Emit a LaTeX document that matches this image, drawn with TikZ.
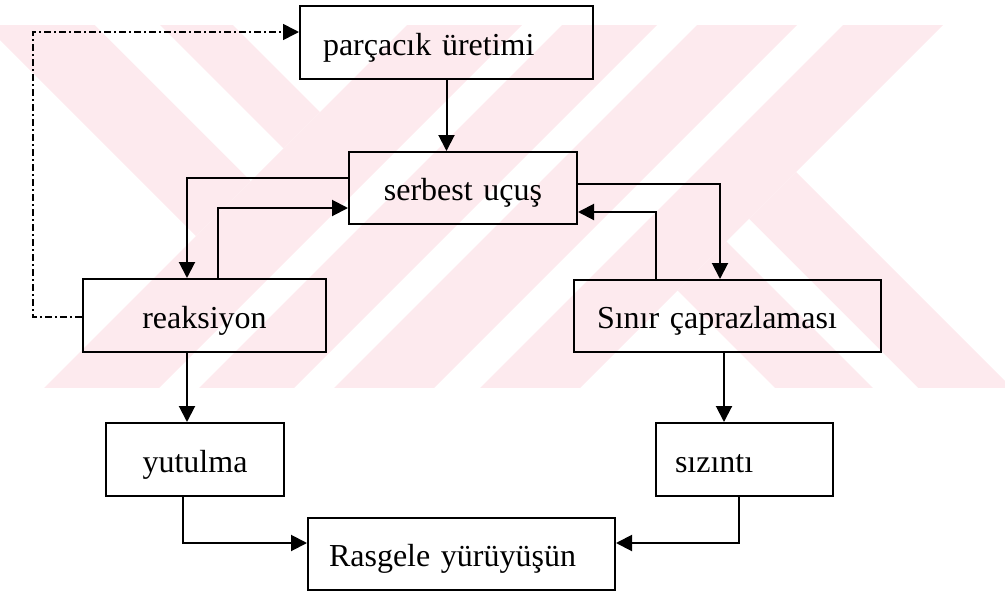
\documentclass[tikz,border=0pt]{standalone}
\usepackage{fontspec}
\setmainfont{Liberation Serif}
\usetikzlibrary{arrows.meta,calc}
\definecolor{wm}{RGB}{253,234,238}
\begin{document}
\begin{tikzpicture}[x=1pt,y=-1pt,
  box/.style={draw, line width=2pt, inner xsep=4pt, inner ysep=0pt,
    font=\fontsize{32}{38}\selectfont, text height=30pt, text depth=5pt},
  arr/.style={line width=2pt, -{Triangle[length=16pt,width=16pt]}},
  ddarr/.style={line width=1.6pt, dash pattern=on 7pt off 3pt on 2pt off 3pt,
    -{Triangle[length=16pt,width=16pt]}}]
\useasboundingbox (0,0) rectangle (1005,595);
% watermark
\begin{scope}
\clip (0,25) rectangle (1005,387);
\fill[wm] (-40,0) -- (208,0) -- (320,112) -- (196,236) -- cycle;
\fill[white] (70,0) -- (135,0) -- (283.5,148.5) -- (251,181) -- cycle;
\foreach \a/\b in {432/547,587/682,722/822,868/968}
  \fill[wm] (\a,0) -- (\b,0) -- (\b-400,400) -- (\a-400,400) -- cycle;
\fill[wm] (796,172) -- (1024,400) -- (787,400) -- (677.5,290.5) -- cycle;
\fill[white] (749,219) -- (930,400) -- (885,400) -- (726.5,241.5) -- cycle;
\end{scope}
% boxes
\node[box, minimum width=293pt, minimum height=73pt, text width=285pt, align=left] (p) at (446.5,42.5) {\hspace*{19pt}parçacık üretimi};
\node[box, minimum width=228pt, minimum height=72pt, text width=220pt, align=center] (s) at (463,188) {serbest uçuş};
\node[box, minimum width=243pt, minimum height=73pt, text width=235pt, align=center] (r) at (204.5,315.5) {reaksiyon};
\node[box, minimum width=307pt, minimum height=72pt, text width=299pt, align=left] (c) at (727.5,316) {\hspace*{19pt}Sınır çaprazlaması};
\node[box, minimum width=178pt, minimum height=73pt, text width=170pt, align=center] (y) at (195,459.5) {yutulma};
\node[box, minimum width=177pt, minimum height=73pt, text width=169pt, align=left] (z) at (744.5,459.5) {\hspace*{15pt}sızıntı};
\node[box, minimum width=307pt, minimum height=72pt, text width=299pt, align=left] (w) at (461.5,554) {\hspace*{17pt}Rasgele yürüyüşün};
% connectors
\draw[arr] (p.south) -- (p.south |- s.north);
\draw[arr] ($(s.west)+(0,-10)$) -| ($(r.north)+(-17.5,0)$);
\draw[arr] ($(r.north)+(13.5,0)$) |- ($(s.west)+(0,20)$);
\draw[arr] ($(s.east)+(0,-4)$) -| ($(c.north)+(-7.5,0)$);
\draw[arr] ($(c.north)+(-71.5,0)$) |- ($(s.east)+(0,24)$);
\draw[arr] (r.south) ++(-17.5,0) coordinate (a6) -- (a6 |- y.north);
\draw[arr] (c.south) ++(-3.5,0) coordinate (a7) -- (a7 |- z.north);
\draw[arr] (y.south) ++(-12,0) coordinate (a8) |- ($(w.west)+(0,-11)$);
\draw[arr] (z.south) ++(-5.5,0) coordinate (a9) |- ($(w.east)+(0,-11)$);
\coordinate (dd) at (33,32);
\draw[ddarr] ($(r.west)+(0,1.5)$) -| (dd) -- ($(p.west)+(0,-10.5)$);
\end{tikzpicture}
\end{document}
